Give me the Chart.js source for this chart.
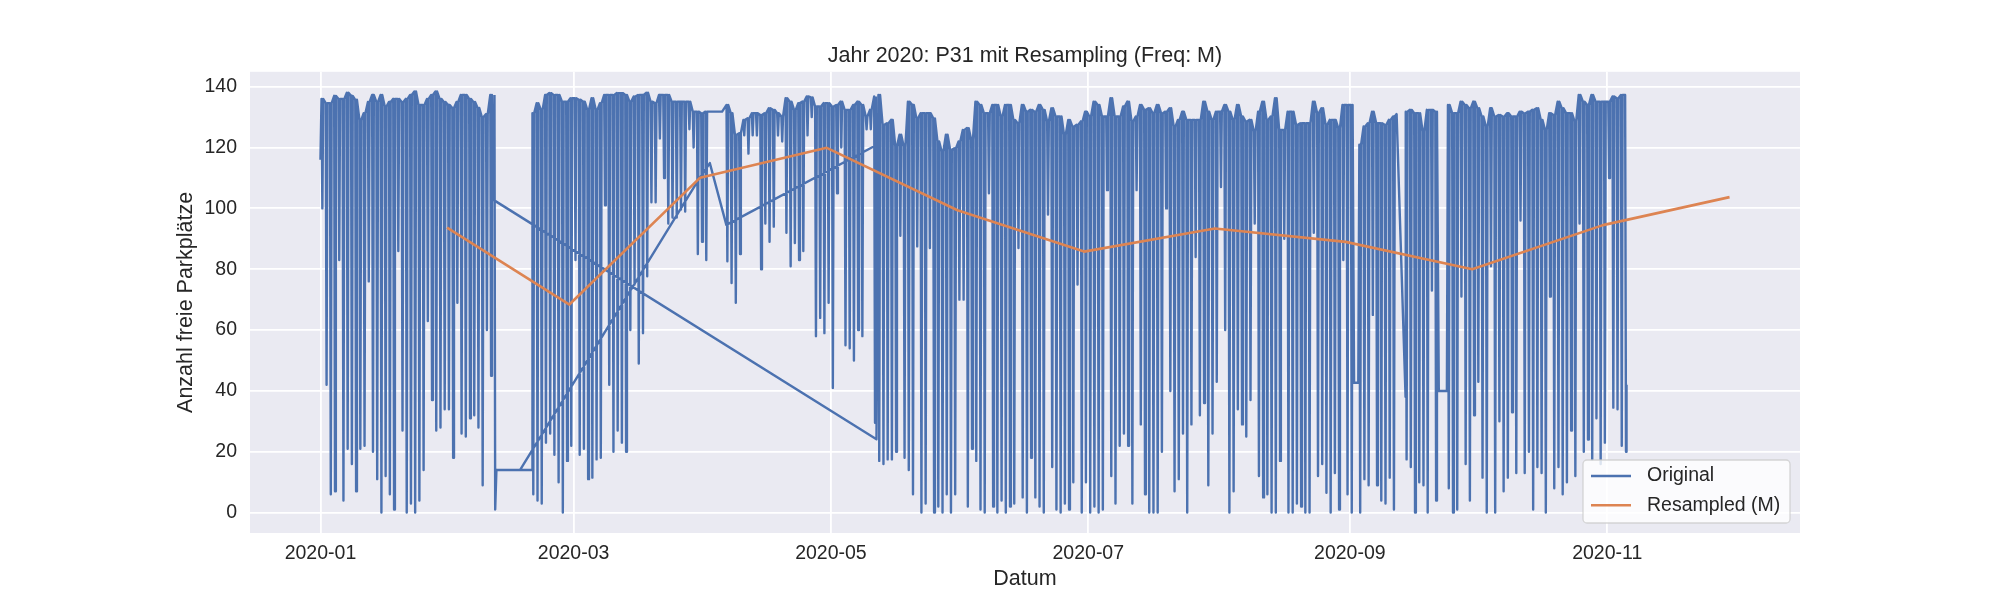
<!DOCTYPE html>
<html><head><meta charset="utf-8">
<script src="https://cdn.jsdelivr.net/npm/chart.js@4.4.1/dist/chart.umd.min.js"></script>
<style>html,body{margin:0;padding:0;background:#fff;}canvas{display:block;}</style>
</head><body>
<canvas id="c" width="2000" height="600"></canvas>
<script>
// ---------------- DATA ----------------
const chartTitle = 'Jahr 2020: P31 mit Resampling (Freq: M)';
const xAxisLabel = 'Datum';
const yAxisLabel = 'Anzahl freie Parkplätze';
const seriesNames = ['Original', 'Resampled (M)'];

const xTickDates  = ['2020-01-01','2020-03-01','2020-05-01','2020-07-01','2020-09-01','2020-11-01'];
const xTickLabels = ['2020-01','2020-03','2020-05','2020-07','2020-09','2020-11'];
const yTickValues = [0,20,40,60,80,100,120,140];

// Monthly resampled means
const resampledDates  = ['2020-01-31','2020-02-29','2020-03-31','2020-04-30','2020-05-31','2020-06-30','2020-07-31','2020-08-31','2020-09-30','2020-10-31','2020-11-30'];
const resampledValues = [93.7, 68.4, 110.1, 119.9, 99.4, 85.8, 93.4, 89.0, 80.0, 94.5, 103.7];

// Original: daily low / high readings (free spaces)
const janFebStart = '2020-01-01';
const janFebLow  = [100,42,6,7,83,4,21,16,7,21,22,76,20,11,0,12,6,1,86,27,0,3,0,4,14,63,37,27,28,34,34,18,69,26,25,31,32,28,9,60,45];
const janFebHigh = [136,134.6,134.6,137,136,136,138,137,135.7,129,131.3,135,137.3,135,137.3,133.5,135,136,136,135,136,137.3,138.4,134,134,136,137.3,138.4,136,135,134,133,135,137.3,137.3,136,135,133,130,131,137.3];

const springStart = '2020-02-20';
const springLow  = [6,4,3,23,26,19,10,0,17,22,83,19,21,11,11.5,17.5,18,101,42,20,27,23,20,60,75,49,59,
  77.7,102,102,123,110,95,97,97,99.6,99,126,120,85,89,83,null,null,null,null,82.6,75.5,69,85,124,118,124,124,80,95,89,94,124,122,92,81,88.6,83,86,124,130,
  58,64,59,69,41,105,120,55,54,50,60,58,126,126,29.5];
const springHigh = [131.3,134.6,132.4,137.3,137.9,137.3,137.3,135.1,135.1,136.2,136.2,135.7,135.1,132.4,136.2,132.4,134.6,137.3,137.3,137.3,137.9,137.9,137.3,135.1,136.8,137.3,137.3,
  138,135.1,134.6,137.3,137.3,137.3,135.1,135.1,135.1,135.1,135.1,131.8,131.8,131.3,131.8,null,null,null,null,134,131.3,124.2,124.7,129.1,129.6,131.3,131.3,130.7,131.3,132.9,132.4,131.3,130.2,136.2,135.1,132.4,134.6,135.1,136.8,136.5,
  133.5,133.5,134.6,134.6,133.5,134,135.1,132.4,132.4,134,135.1,134,130.2,132.4,136.8];

const summerStart = '2020-05-12';
const summerLow  = [17,16,17.5,17.5,20,91,18,14,6,87.5,0,3,87,0,2,0,6,0,6,70,70,2,21,17,
  1,0,105,2,0,4,0,2,3,87,5,0,18,5,2,0,98,15,1,0,3,1,10,75,0,10,0,2,0,1,106,12,3,22,26,22,3,106,29];
const summerHigh = [137.3,127.5,128,129.1,120.4,124.2,120.4,135.1,134,129.6,131.3,131.3,131.3,129.6,122,118.7,124.2,119.3,119.8,122,125.8,126.4,122.5,135.1,
  134,131.3,131.3,134,134,130.2,134,134,129.1,128,134,131.8,132.4,131.8,134,132.4,128.6,132.9,130.2,130.2,124.2,129.1,126.9,127.5,128.6,131.8,130.2,135.1,134,130.2,130.2,136.2,130.2,130.2,133.5,135.1,128.6,130.2,134];

const lateSummerStart = '2020-07-14';
const lateSummerLow  = [6,0,0,0,20,100,40,7,11,26,0,29,84,32,36,9,26,43,107,60,0,7,34,29,25,37,95,12,5,6,0,0,17,90,0,0,3,2,0,
  0,92,12,16,6.5,0,13,1,83,6,0,null,0,11,9,65,9,4,3,11.5,1,null,null,17.5,15,0,10,9,0,73,4,null,null,8,0,1,71,16,4];
const lateSummerHigh = [132.4,132.9,131.3,134,131.3,131.8,132.9,126.9,129.1,131.8,129.1,129.1,129.1,129.1,135.1,131.8,129.1,131.8,131.8,134,131.8,129.1,134,130.2,128.6,129.1,125.3,131.8,135.1,129.1,130.2,136.2,125.8,125.8,131.8,131.8,127.5,128,128,
  128,135.1,131.3,132.9,127.5,129.1,129.1,126.4,134,134,134,null,120.9,126.9,128,131.8,128,128,127.5,129.1,130.2,null,null,131.8,132.4,131.3,131.3,125.3,132.4,132.4,131.8,null,null,134,131.3,131.3,135.1,134,132.9];

const autumnStart = '2020-09-30';
const autumnLow  = [32,43,11.5,0,81,0,30,7,11.5,33,13,96,13,20,1,15,13,0,71,8,15,6,10,27,12,95,20,24,17.5,31,16,23,110,34.5,34,22,null];
const autumnHigh = [135.1,132.9,130.2,126.9,132.9,130.2,130.7,130.2,131.3,130.2,130.2,131.8,131.3,131.8,132.4,132.9,129.1,125.8,131.3,130.7,135.1,132.9,131.3,131.3,128.6,137.3,135.1,134,137.3,135.1,135.1,135.1,135.1,136.8,136.2,137.3,null];

// Individual readings (stuck sensor, gaps, record order jumps)
const mainRecords = [['2020-01-01T00:00',116],['2020-02-11T00:00',102.8],['2020-05-11T19:00',24.1],
  ['2020-09-02T00:00',42.7],['2020-09-03T00:00',42.7],['2020-09-12T02:00',131],['2020-09-14T05:00',38],
  ['2020-09-22T02:00',40],['2020-09-24T00:00',40],
  ['2020-11-05T06:00',137.3],['2020-11-05T11:00',20],['2020-11-05T14:00',42]];
const bridgeRecords = [['2020-02-17T07:00',14],['2020-03-30T17:00',109.6],['2020-04-02T07:00',114.9],['2020-04-06T05:00',94.6],['2020-05-12T14:00',121.4]];
const springRecords = [['2020-02-11T06:00',137.3],['2020-02-11T10:00',1],['2020-02-11T17:00',14],['2020-02-20T05:00',14],
  ['2020-04-02T22:00',131.8],['2020-04-05T05:00',131.8]];

// ---------------- BUILD ----------------
const FONT = "'Liberation Sans', Arial, Helvetica, sans-serif";
const TXT = '#262626';
const T0 = Date.UTC(2020,0,1), DAY = 86400000;
function dayOf(s){
  const [d,t] = s.split('T'); const [Y,M,D] = d.split('-').map(Number);
  let h=0,m=0; if(t){ [h,m] = t.split(':').map(Number); }
  return (Date.UTC(Y,M-1,D,h,m) - T0) / DAY;
}
function daily(start, lows, highs){
  const d0 = dayOf(start), out = [];
  for (let i=0;i<lows.length;i++){
    const l = lows[i], h = highs[i];
    if (l==null || h==null) continue;
    const d = d0 + i;
    out.push({x:d+0.25,y:h},{x:d+0.45,y:l},{x:d+0.65,y:h});
  }
  return out;
}
const recs = list => list.map(([s,v]) => ({x:dayOf(s), y:v}));
const chain = (...parts) => [].concat(...parts).sort((a,b)=>a.x-b.x);

const chainMain = chain(recs(mainRecords), daily(janFebStart,janFebLow,janFebHigh),
  daily(summerStart,summerLow,summerHigh), daily(lateSummerStart,lateSummerLow,lateSummerHigh),
  daily(autumnStart,autumnLow,autumnHigh));
const chainBridge = recs(bridgeRecords);
const chainSpring = chain(recs(springRecords), daily(springStart,springLow,springHigh));
const originalData = [].concat(chainMain, [{x:chainMain[chainMain.length-1].x,y:null}],
  chainBridge, [{x:chainBridge[chainBridge.length-1].x,y:null}], chainSpring);
const resampledData = resampledDates.map((d,i)=>({x:dayOf(d), y:resampledValues[i]}));
const xTickDays = xTickDates.map(dayOf);

const COLORS = ['#4C72B0', '#DD8452'];

const bgPlugin = {
  id:'bg',
  beforeDraw(chart){
    const {ctx, chartArea:a} = chart;
    ctx.save();
    ctx.fillStyle = '#ffffff'; ctx.fillRect(0,0,chart.width,chart.height);
    ctx.fillStyle = '#EAEAF2'; ctx.fillRect(a.left, a.top, a.right-a.left, a.bottom-a.top);
    ctx.restore();
  }
};
const legendPlugin = {
  id:'mplLegend',
  afterDatasetsDraw(chart){
    const ctx = chart.ctx, a = chart.chartArea;
    const fs = 19.5, w = 207, h = 63;
    const x0 = a.right - 10 - w, y0 = a.bottom - 10 - h;
    ctx.save();
    ctx.beginPath();
    ctx.roundRect(x0, y0, w, h, 4);
    ctx.fillStyle = 'rgba(255,255,255,0.8)'; ctx.fill();
    ctx.strokeStyle = 'rgba(204,204,204,0.8)'; ctx.lineWidth = 1.3; ctx.stroke();
    ctx.font = fs + 'px ' + FONT; ctx.textBaseline = 'middle'; ctx.textAlign = 'left';
    seriesNames.forEach((name,i)=>{
      const cy = y0 + 16 + i*29.3;
      ctx.strokeStyle = COLORS[i]; ctx.lineWidth = 2.6;
      ctx.beginPath(); ctx.moveTo(x0+8, cy); ctx.lineTo(x0+48, cy); ctx.stroke();
      ctx.fillStyle = TXT; ctx.fillText(name, x0+64, cy);
    });
    ctx.restore();
  }
};

new Chart(document.getElementById('c'), {
  type:'line',
  data:{ datasets:[
    { label: seriesNames[1], data: resampledData, borderColor: COLORS[1], backgroundColor: COLORS[1],
      borderWidth: 2.6, pointRadius: 0, tension: 0, fill: false, order: 0, borderJoinStyle:'round' },
    { label: seriesNames[0], data: originalData, borderColor: COLORS[0], backgroundColor: COLORS[0],
      borderWidth: 2.4, pointRadius: 0, tension: 0, fill: false, order: 1, spanGaps: false, borderJoinStyle:'round' }
  ]},
  options:{
    responsive:false, animation:false, devicePixelRatio:1, events:[],
    layout:{ padding:{ left:0, right:200, top:0, bottom:0 } },
    plugins:{
      legend:{ display:false }, tooltip:{ enabled:false },
      title:{ display:true, text: chartTitle, fullSize:false, color: TXT,
        font:{ family: FONT, size: 21.5, weight:'normal', lineHeight:1.2 }, padding:{ top:43, bottom:3 } }
    },
    scales:{
      x:{ type:'linear', min:-16.7, max:350.7,
        afterBuildTicks: s => { s.ticks = xTickDays.map(v=>({value:v})); },
        afterFit: s => { s.height = 67; },
        ticks:{ callback:(v,i)=>xTickLabels[i], color: TXT, font:{ family: FONT, size: 19.5 }, padding: 9, maxRotation:0, autoSkip:false },
        grid:{ color:'#ffffff', lineWidth:1.8, drawTicks:false },
        border:{ display:false },
        title:{ display:true, text: xAxisLabel, color: TXT, font:{ family: FONT, size: 21.5, lineHeight:1.2 }, padding:{ top:0, bottom:8 } }
      },
      y:{ type:'linear', min:-6.7, max:144.9,
        afterBuildTicks: s => { s.ticks = yTickValues.map(v=>({value:v})); },
        afterFit: s => { s.width = 250; },
        ticks:{ callback: v => String(v), color: TXT, font:{ family: FONT, size: 19.5 }, padding: 13 },
        grid:{ color:'#ffffff', lineWidth:1.8, drawTicks:false },
        border:{ display:false },
        title:{ display:true, text: yAxisLabel, color: TXT, font:{ family: FONT, size: 21.5, lineHeight:1.2 }, padding:{ top:173, bottom:0 } }
      }
    }
  },
  plugins:[bgPlugin, legendPlugin]
});
</script>
</body></html>
